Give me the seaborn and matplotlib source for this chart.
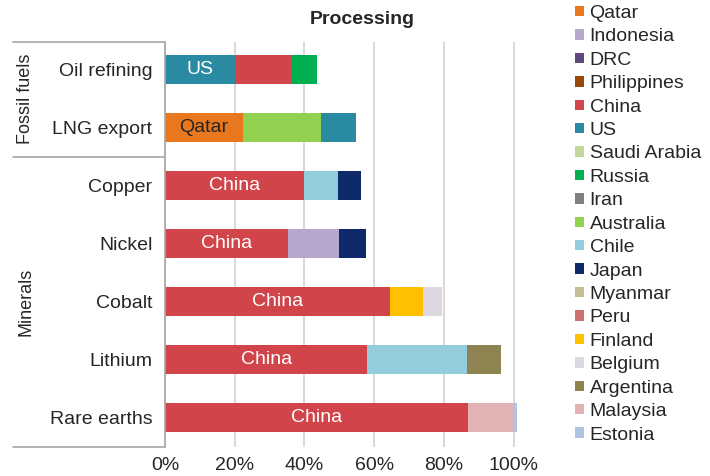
import pandas as pd
import seaborn as sns
import matplotlib.pyplot as plt
import matplotlib.transforms as mtransforms
from matplotlib.patches import Patch
from matplotlib.lines import Line2D

# data (share of global processing, %)
items = ['Oil refining', 'LNG export', 'Copper', 'Nickel', 'Cobalt', 'Lithium', 'Rare earths']
first_country = ['US', 'Qatar', 'China', 'China', 'China', 'China', 'China']
first_share = [20.3, 22.4, 40.0, 35.2, 64.5, 58.0, 87.0]
second_country = ['China', 'Australia', 'Chile', 'Indonesia', 'Finland', 'Chile', 'Malaysia']
second_share = [15.8, 22.3, 9.6, 14.8, 9.5, 28.5, 12.7]
third_country = ['Russia', 'US', 'Japan', 'Japan', 'Belgium', 'Argentina', 'Estonia']
third_share = [7.4, 10.0, 6.6, 7.6, 5.4, 9.8, 1.3]

countries = ['Qatar', 'Indonesia', 'DRC', 'Philippines', 'China', 'US', 'Saudi Arabia',
             'Russia', 'Iran', 'Australia', 'Chile', 'Japan', 'Myanmar', 'Peru',
             'Finland', 'Belgium', 'Argentina', 'Malaysia', 'Estonia']
colors = ['#E8771E', '#B7A6CC', '#5F497A', '#984807', '#D0444A', '#2A8AA2', '#C3D69B',
          '#00B050', '#808080', '#92D050', '#93CDDD', '#0F2A6B', '#C4BD97', '#CF7070',
          '#FFC000', '#DDD8E0', '#8E8452', '#E3B3B4', '#B0C4E2']
palette = dict(zip(countries, colors))

rows = []
for i, item in enumerate(items):
    rows.append([item, 1, first_country[i], first_share[i]])
    rows.append([item, 2, second_country[i], second_share[i]])
    rows.append([item, 3, third_country[i], third_share[i]])
df = pd.DataFrame(rows, columns=['item', 'rank', 'country', 'share'])
df['end'] = df.groupby('item')['share'].cumsum()

sns.set_style('white')
plt.rcParams['font.family'] = ['Liberation Sans', 'DejaVu Sans']
text_col = '#262626'
fs = 14

fig, ax = plt.subplots(figsize=(7.1, 4.76), dpi=100)
fig.subplots_adjust(left=165/710, right=559/710, top=1-42/476, bottom=1-447/476)

# stacked bars: draw cumulative ends, last segment first
for r in [3, 2, 1]:
    sub = df[df['rank'] == r]
    sns.barplot(data=sub, x='end', y='item', hue='country', palette=palette, order=items,
                dodge=False, width=0.5, orient='h', errorbar=None, saturation=1,
                legend=False, linewidth=0, ax=ax)

# labels inside the first segment
for i in range(len(items)):
    c = text_col if first_country[i] == 'Qatar' else 'white'
    ax.text(first_share[i] / 2, i, first_country[i], ha='center', va='center',
            color=c, fontsize=fs)

ax.set_xlim(0, 113)
ax.set_ylim(6.5, -0.48)
ax.set_xticks([0, 20, 40, 60, 80, 100])
ax.set_xticklabels([f'{v}%' for v in [0, 20, 40, 60, 80, 100]], fontsize=fs, color=text_col)
ax.set_yticks(range(len(items)))
ax.set_yticklabels(items, fontsize=fs, color=text_col)
ax.tick_params(axis='both', length=0)
ax.tick_params(axis='y', pad=9)
ax.tick_params(axis='x', pad=7)
ax.set_xlabel('')
ax.set_ylabel('')
ax.xaxis.grid(True, color='#d9d9d9', lw=1.5)
ax.set_axisbelow(True)
for s in ['top', 'right', 'bottom']:
    ax.spines[s].set_visible(False)
ax.spines['left'].set_color('#a6a6a6')
ax.spines['left'].set_linewidth(1.2)

ax.set_title('Processing', fontweight='bold', fontsize=fs, color=text_col, pad=13)

# table-like category frame on the left
x0 = 13/710
x1 = 165/710
tr_ax = mtransforms.blended_transform_factory(fig.transFigure, ax.transAxes)
tr_data = mtransforms.blended_transform_factory(fig.transFigure, ax.transData)
for y in [0, 1]:
    fig.add_artist(Line2D([x0, x1], [y, y], transform=tr_ax, color='#a6a6a6', lw=1.2))
fig.add_artist(Line2D([x0, x1], [1.5, 1.5], transform=tr_data, color='#a6a6a6', lw=1.2))
fig.text(26/710, 0.5, 'Fossil fuels', rotation=90, ha='center', va='center',
         fontsize=13, color=text_col, transform=tr_data)
fig.text(26/710, 4.0, 'Minerals', rotation=90, ha='center', va='center',
         fontsize=13, color=text_col, transform=tr_data)

handles = [Patch(facecolor=palette[c], edgecolor='none', label=c) for c in countries]
leg = fig.legend(handles=handles, loc='upper left', bbox_to_anchor=(575/710, 1-5/476),
                 frameon=False, handlelength=0.45, handleheight=0.45, handletextpad=0.3,
                 labelspacing=0.33, fontsize=fs, borderpad=0, borderaxespad=0)
for t in leg.get_texts():
    t.set_color(text_col)

fig.savefig('out.png', dpi=100)
